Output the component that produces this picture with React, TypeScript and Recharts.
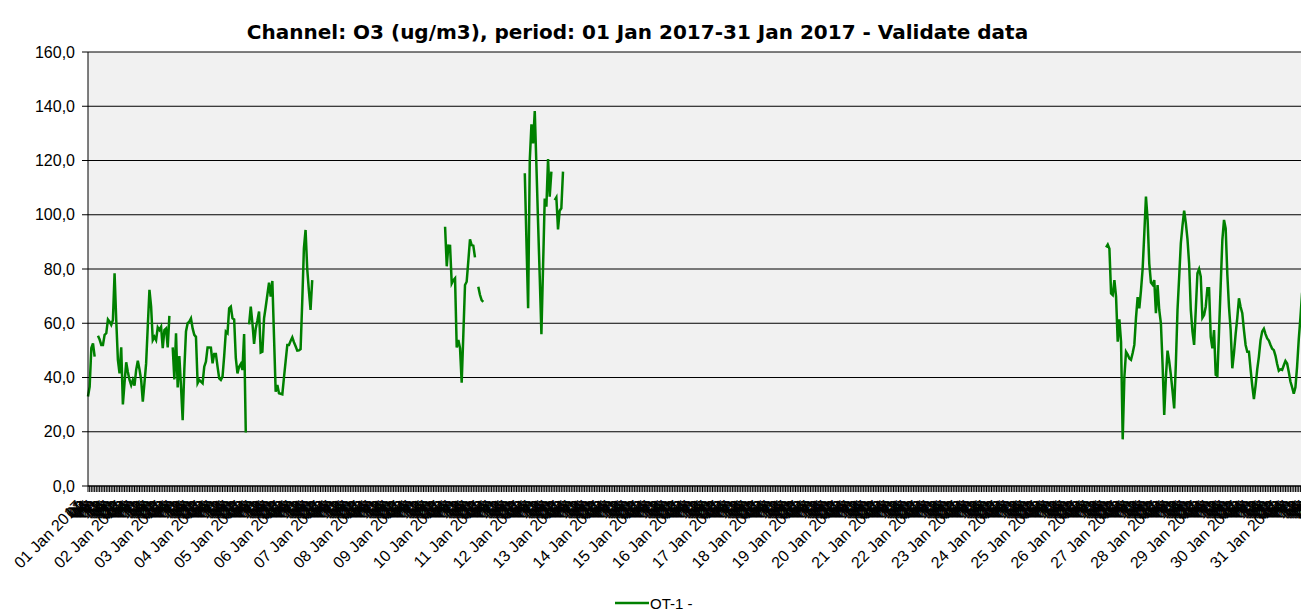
import React from "react";
import { LineChart, Line, XAxis, YAxis, CartesianGrid, Legend } from "recharts";

// tick labels
const dayLabels = [
  "01 Jan 2017", "02 Jan 2017", "03 Jan 2017", "04 Jan 2017", "05 Jan 2017", "06 Jan 2017", "07 Jan 2017",
  "08 Jan 2017", "09 Jan 2017", "10 Jan 2017", "11 Jan 2017", "12 Jan 2017", "13 Jan 2017", "14 Jan 2017",
  "15 Jan 2017", "16 Jan 2017", "17 Jan 2017", "18 Jan 2017", "19 Jan 2017", "20 Jan 2017", "21 Jan 2017",
  "22 Jan 2017", "23 Jan 2017", "24 Jan 2017", "25 Jan 2017", "26 Jan 2017", "27 Jan 2017", "28 Jan 2017",
  "29 Jan 2017", "30 Jan 2017", "31 Jan 2017",
];
const hourLabels = [
  "00", "01", "02", "03", "04", "05", "06", "07", "08", "09", "10", "11",
  "12", "13", "14", "15", "16", "17", "18", "19", "20", "21", "22", "23",
];
const yTicks = [0, 20, 40, 60, 80, 100, 120, 140, 160];

// hourly O3 values (ug/m3), one array per day, null = no valid reading
const jan01 = [33, 36.6, 50.9, 52.6, 47.7, null, 55.4, 54, 52, 52, 55.7, 56.3, 61.4, 60.6, 59.4, 61.2, 78.4, 61.2, 46.5, 41.5, 51.1, 30.1, 38, 45.6];
const jan02 = [42, 39.1, 37.2, 39.1, 37, 42.8, 46.2, 43, 39.1, 31.1, 38, 45.2, 59, 72.3, 66.1, 53.8, 55, 53.8, 58.5, 57.5, 58.7, 50.8, 57.5, 58.1];
const jan03 = [51.1, 62.7, null, 51.1, 39.3, 56.3, 36.3, 47.9, 36.6, 24.3, 43, 57, 60, 60.6, 61.8, 58.1, 55.7, 55, 37.9, 39.1, 38.5, 37.9, 44, 45.8];
const jan04 = [51.1, 51.1, 51, 45.2, 48.7, 48.7, 44, 39.7, 39.1, 40.3, 48, 56.9, 56.3, 65.5, 66.1, 61.8, 61.4, 47.1, 41.5, 44, 45, 42.8, 56, 19.7];
const jan05 = [null, 59.6, 66.1, 60, 52.4, 58.1, 61, 64.3, 49.2, 49.5, 61.8, 66, 70.5, 75, 69.8, 75.6, 55, 34.8, 37.2, 34.2, 34, 33.8, 40, 46];
const jan06 = [52, 52, 53.5, 54.8, 53, 51.5, 49.9, 50, 50.5, 68, 87.6, 94.4, 80, 72, 64.9, 75.9, null, null, null, null, null, null, null, null];
const jan09 = [null, null, null, null, null, null, null, null, null, null, null, null, null, null, null, null, null, null, null, null, null, null, null, 95.6];
const jan10 = [81, 88.6, 88.5, 74.7, 75.9, 76.6, 51.1, 53.8, 50.8, 38.1, 56, 74.1, 75.3, 83, 90.9, 88.8, 88.6, 84.3, null, 73.5, 70.5, 68.5, 67.9, null];
const jan11 = [null, null, null, null, null, null, null, null, null, null, null, null, null, null, null, null, null, null, null, null, null, null, null, 115.3];
const jan12 = [90, 65.5, 120.2, 133.3, 126.3, 138.2, 118, 97, 77, 56, 81, 106, 103, 120.5, 106.7, 115.9, null, 105.4, 106.4, 94.6, 101.5, 102.4, 115.9, null];
const jan26 = [null, null, null, null, null, null, null, null, null, null, null, null, null, 88, 89, 87.5, 71, 70.4, 75.9, 69.8, 53.2, 61.4, 53.2, 17.2];
const jan27 = [40, 49.5, 48.5, 47, 46.5, 49, 52, 62, 69.6, 65.5, 72, 80, 93, 106.7, 98.1, 82, 75, 74.2, 75.9, 63.7, 74.1, 64.9, 60, 45];
const jan28 = [26.2, 40, 49.9, 46, 41, 35, 28.6, 45, 64.9, 77, 89.5, 96, 101.5, 97, 91, 82, 65, 57, 52, 65, 78.4, 80, 77.2, 62];
const jan29 = [63, 66.1, 72.9, 72.9, 55, 50.8, 57.5, 41, 40.6, 57, 74, 90.7, 98.1, 95, 78, 66, 57.5, 43.4, 49, 56, 62, 69.2, 66, 63.7];
const jan30 = [57.5, 52, 49.5, 49.5, 43, 37, 32, 37, 43, 47.7, 53.8, 57, 58, 56, 54.4, 53.6, 52, 50.6, 50.1, 48, 45, 42.5, 43, 42.8];
const jan31 = [44.5, 46.1, 45.2, 42, 38.5, 36.4, 34, 36.4, 44, 54, 62, 71, 74.5, 72.3, 69, 66.1, null, null, null, null, null, null, null, null];
// days without any validated reading
const noReadings = [null, null, null, null, null, null, null, null, null, null, null, null, null, null, null, null, null, null, null, null, null, null, null, null];

const days = [
  jan01, jan02, jan03, jan04, jan05, jan06, noReadings, noReadings, jan09, jan10, jan11, jan12,
  noReadings, noReadings, noReadings, noReadings, noReadings, noReadings, noReadings, noReadings,
  noReadings, noReadings, noReadings, noReadings, noReadings, jan26, jan27, jan28, jan29, jan30, jan31,
];

const data = days.flatMap((day, d) => day.map((v, h) => ({ t: d * 24 + h, v })));

const FONT = "'Liberation Sans', Arial, sans-serif";

const HourTick = (props: any) => {
  const { x, y, payload } = props;
  const i = payload.value as number;
  const h = i % 24;
  const label = h === 0 ? dayLabels[Math.floor(i / 24)] : hourLabels[h];
  const ax = x - 5;
  const ay = y + 13;
  return (
    <text
      x={ax}
      y={ay}
      transform={`rotate(-45 ${ax} ${ay})`}
      textAnchor="end"
      fontSize={16}
      fontFamily={FONT}
      fill="#000"
    >
      {label}
    </text>
  );
};

const LegendContent = () => (
  <div style={{ display: "flex", alignItems: "center", height: 20, fontFamily: FONT, fontSize: 15 }}>
    <svg width={34} height={20}>
      <line x1={0} y1={10} x2={34} y2={10} stroke="#008000" strokeWidth={2.5} />
    </svg>
    <span style={{ marginLeft: 1 }}>OT-1 -</span>
  </div>
);

const App: React.FC = () => {
  return (
    <div style={{ position: "relative", width: 1301, height: 602, overflow: "hidden" }}>
      <div
        style={{
          position: "absolute",
          top: 13,
          left: 0,
          width: 1259,
          textAlign: "center",
          fontFamily: "'DejaVu Sans', Verdana, sans-serif",
          fontWeight: "bold",
          fontSize: 20,
          lineHeight: "22px",
          zIndex: 1,
        }}
      >
        Channel: O3 (ug/m3), period: 01 Jan 2017-31 Jan 2017 - Validate data
      </div>
      <LineChart width={1330} height={602} data={data} margin={{ top: 44, right: 16, bottom: 0, left: 0 }}>
        <CartesianGrid vertical={false} stroke="#000" fill="#f1f1f1" />
        <XAxis
          dataKey="t"
          type="category"
          interval={0}
          height={104}
          tick={<HourTick />}
          tickSize={6}
          tickLine={{ stroke: "#000" }}
          axisLine={{ stroke: "#000" }}
        />
        <YAxis
          width={80}
          domain={[0, 160]}
          ticks={yTicks}
          tickFormatter={(v: number) => v.toFixed(1).replace(".", ",")}
          tick={{ fill: "#000", fontSize: 16, fontFamily: FONT }}
          tickSize={6}
          tickMargin={7}
          tickLine={{ stroke: "#000" }}
          axisLine={{ stroke: "#000" }}
        />
        <Legend content={<LegendContent />} wrapperStyle={{ top: 585, left: 607, width: "auto" }} />
        <Line
          type="linear"
          dataKey="v"
          stroke="#008000"
          strokeWidth={2.5}
          dot={false}
          activeDot={false}
          connectNulls={false}
          isAnimationActive={false}
        />
      </LineChart>
    </div>
  );
};

export default App;
